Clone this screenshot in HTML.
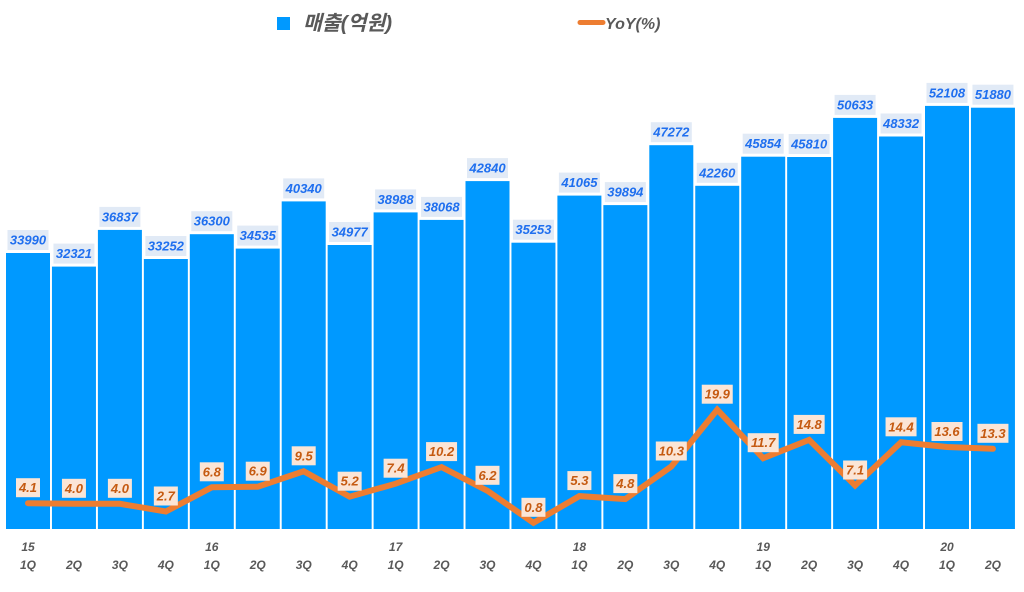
<!DOCTYPE html>
<html><head><meta charset="utf-8"><style>
html,body{margin:0;padding:0;background:#fff;}
svg{display:block;}
.bl{font-family:"Liberation Sans",sans-serif;font-weight:bold;font-style:italic;font-size:13px;fill:#1f6fef;text-anchor:middle;}
.yl{font-family:"Liberation Sans",sans-serif;font-weight:bold;font-style:italic;font-size:13px;fill:#c55a11;text-anchor:middle;}
.ax{font-family:"Liberation Sans",sans-serif;font-weight:bold;font-style:italic;font-size:12px;fill:#595959;text-anchor:middle;}
</style></head><body>
<svg width="1024" height="592" viewBox="0 0 1024 592" xmlns="http://www.w3.org/2000/svg">
<rect width="1024" height="592" fill="#fff"/>
<!-- legend -->
<rect x="277" y="17" width="13" height="13" fill="#0099ff"/>
<text x="303" y="30" style="font-family:'Liberation Sans','Noto Sans CJK KR',sans-serif;font-weight:bold;font-style:italic;font-size:20.5px;fill:#595959;">매출(억원)</text>
<line x1="580" y1="22.5" x2="603" y2="22.5" stroke="#ed7d31" stroke-width="5" stroke-linecap="round"/>
<text x="605" y="29" style="font-family:'Liberation Sans',sans-serif;font-weight:bold;font-style:italic;font-size:16px;fill:#595959;">YoY(%)</text>
<!-- bars -->
<g fill="#0099ff">
<rect x="6" y="253.0" width="44" height="276.0"/>
<rect x="51.95" y="266.6" width="44" height="262.4"/>
<rect x="97.9" y="229.9" width="44" height="299.1"/>
<rect x="143.85" y="259.0" width="44" height="270.0"/>
<rect x="189.8" y="234.2" width="44" height="294.8"/>
<rect x="235.75" y="248.6" width="44" height="280.4"/>
<rect x="281.7" y="201.4" width="44" height="327.6"/>
<rect x="327.65" y="245.0" width="44" height="284.0"/>
<rect x="373.6" y="212.4" width="44" height="316.6"/>
<rect x="419.55" y="219.9" width="44" height="309.1"/>
<rect x="465.5" y="181.1" width="44" height="347.9"/>
<rect x="511.45" y="242.7" width="44" height="286.3"/>
<rect x="557.4" y="195.6" width="44" height="333.4"/>
<rect x="603.35" y="205.1" width="44" height="323.9"/>
<rect x="649.3" y="145.2" width="44" height="383.8"/>
<rect x="695.25" y="185.8" width="44" height="343.2"/>
<rect x="741.2" y="156.7" width="44" height="372.3"/>
<rect x="787.15" y="157.0" width="44" height="372.0"/>
<rect x="833.1" y="117.9" width="44" height="411.1"/>
<rect x="879.05" y="136.5" width="44" height="392.5"/>
<rect x="925" y="105.9" width="44" height="423.1"/>
<rect x="970.95" y="107.7" width="44" height="421.3"/>
</g>
<!-- bar label boxes -->
<g fill="#e1eaf6">
<rect x="7.5" y="230.0" width="41" height="20"/>
<rect x="53.45" y="243.6" width="41" height="20"/>
<rect x="99.4" y="206.9" width="41" height="20"/>
<rect x="145.35" y="236.0" width="41" height="20"/>
<rect x="191.3" y="211.2" width="41" height="20"/>
<rect x="237.25" y="225.6" width="41" height="20"/>
<rect x="283.2" y="178.4" width="41" height="20"/>
<rect x="329.15" y="222.0" width="41" height="20"/>
<rect x="375.1" y="189.4" width="41" height="20"/>
<rect x="421.05" y="196.9" width="41" height="20"/>
<rect x="467.0" y="158.1" width="41" height="20"/>
<rect x="512.95" y="219.7" width="41" height="20"/>
<rect x="558.9" y="172.6" width="41" height="20"/>
<rect x="604.85" y="182.1" width="41" height="20"/>
<rect x="650.8" y="122.2" width="41" height="20"/>
<rect x="696.75" y="162.8" width="41" height="20"/>
<rect x="742.7" y="133.7" width="41" height="20"/>
<rect x="788.65" y="134.0" width="41" height="20"/>
<rect x="834.6" y="94.9" width="41" height="20"/>
<rect x="880.55" y="113.5" width="41" height="20"/>
<rect x="926.5" y="82.9" width="41" height="20"/>
<rect x="972.45" y="84.7" width="41" height="20"/>
</g>
<g class="bl">
<text x="28" y="244.5">33990</text>
<text x="73.95" y="258.1">32321</text>
<text x="119.9" y="221.4">36837</text>
<text x="165.85" y="250.5">33252</text>
<text x="211.8" y="225.7">36300</text>
<text x="257.75" y="240.1">34535</text>
<text x="303.7" y="192.9">40340</text>
<text x="349.65" y="236.5">34977</text>
<text x="395.6" y="203.9">38988</text>
<text x="441.55" y="211.4">38068</text>
<text x="487.5" y="172.6">42840</text>
<text x="533.45" y="234.2">35253</text>
<text x="579.4" y="187.1">41065</text>
<text x="625.35" y="196.6">39894</text>
<text x="671.3" y="136.7">47272</text>
<text x="717.25" y="177.3">42260</text>
<text x="763.2" y="148.2">45854</text>
<text x="809.15" y="148.5">45810</text>
<text x="855.1" y="109.4">50633</text>
<text x="901.05" y="128.0">48332</text>
<text x="947" y="97.4">52108</text>
<text x="992.95" y="99.2">51880</text>
</g>
<!-- YoY line -->
<polyline fill="none" stroke="#ed7d31" stroke-width="6" stroke-linecap="round" stroke-linejoin="miter"
points="28,503.2 73.95,503.8 119.9,503.8 165.85,511.5 211.8,487.3 257.75,486.7 303.7,471.3 349.65,496.7 395.6,483.7 441.55,467.1 487.5,490.8 533.45,522.8 579.4,496.1 625.35,499.1 671.3,466.5 717.25,409.7 763.2,458.2 809.15,439.9 855.1,485.5 901.05,442.3 947,447.0 992.95,448.8"/>
<!-- YoY label boxes -->
<g fill="#fbe5d6">
<rect x="16" y="478.2" width="24" height="19"/>
<rect x="61.95" y="478.8" width="24" height="19"/>
<rect x="107.9" y="478.8" width="24" height="19"/>
<rect x="153.85" y="486.5" width="24" height="19"/>
<rect x="199.8" y="462.3" width="24" height="19"/>
<rect x="245.75" y="461.7" width="24" height="19"/>
<rect x="291.7" y="446.3" width="24" height="19"/>
<rect x="337.65" y="471.7" width="24" height="19"/>
<rect x="383.6" y="458.7" width="24" height="19"/>
<rect x="426.05" y="442.1" width="31" height="19"/>
<rect x="475.5" y="465.8" width="24" height="19"/>
<rect x="521.45" y="497.8" width="24" height="19"/>
<rect x="567.4" y="471.1" width="24" height="19"/>
<rect x="613.35" y="474.1" width="24" height="19"/>
<rect x="655.8" y="441.5" width="31" height="19"/>
<rect x="701.75" y="384.7" width="31" height="19"/>
<rect x="747.7" y="433.2" width="31" height="19"/>
<rect x="793.65" y="414.9" width="31" height="19"/>
<rect x="843.1" y="460.5" width="24" height="19"/>
<rect x="885.55" y="417.3" width="31" height="19"/>
<rect x="931.5" y="422.0" width="31" height="19"/>
<rect x="977.45" y="423.8" width="31" height="19"/>
</g>
<g class="yl">
<text x="28" y="492.2">4.1</text>
<text x="73.95" y="492.8">4.0</text>
<text x="119.9" y="492.8">4.0</text>
<text x="165.85" y="500.5">2.7</text>
<text x="211.8" y="476.3">6.8</text>
<text x="257.75" y="475.7">6.9</text>
<text x="303.7" y="460.3">9.5</text>
<text x="349.65" y="485.7">5.2</text>
<text x="395.6" y="472.7">7.4</text>
<text x="441.55" y="456.1">10.2</text>
<text x="487.5" y="479.8">6.2</text>
<text x="533.45" y="511.8">0.8</text>
<text x="579.4" y="485.1">5.3</text>
<text x="625.35" y="488.1">4.8</text>
<text x="671.3" y="455.5">10.3</text>
<text x="717.25" y="398.7">19.9</text>
<text x="763.2" y="447.2">11.7</text>
<text x="809.15" y="428.9">14.8</text>
<text x="855.1" y="474.5">7.1</text>
<text x="901.05" y="431.3">14.4</text>
<text x="947" y="436.0">13.6</text>
<text x="992.95" y="437.8">13.3</text>
</g>
<!-- axis labels -->
<g class="ax">
<text x="28" y="551">15</text>
<text x="211.8" y="551">16</text>
<text x="395.6" y="551">17</text>
<text x="579.4" y="551">18</text>
<text x="763.2" y="551">19</text>
<text x="947" y="551">20</text>
<text x="28" y="569">1Q</text>
<text x="73.95" y="569">2Q</text>
<text x="119.9" y="569">3Q</text>
<text x="165.85" y="569">4Q</text>
<text x="211.8" y="569">1Q</text>
<text x="257.75" y="569">2Q</text>
<text x="303.7" y="569">3Q</text>
<text x="349.65" y="569">4Q</text>
<text x="395.6" y="569">1Q</text>
<text x="441.55" y="569">2Q</text>
<text x="487.5" y="569">3Q</text>
<text x="533.45" y="569">4Q</text>
<text x="579.4" y="569">1Q</text>
<text x="625.35" y="569">2Q</text>
<text x="671.3" y="569">3Q</text>
<text x="717.25" y="569">4Q</text>
<text x="763.2" y="569">1Q</text>
<text x="809.15" y="569">2Q</text>
<text x="855.1" y="569">3Q</text>
<text x="901.05" y="569">4Q</text>
<text x="947" y="569">1Q</text>
<text x="992.95" y="569">2Q</text>
</g>
</svg>
</body></html>
